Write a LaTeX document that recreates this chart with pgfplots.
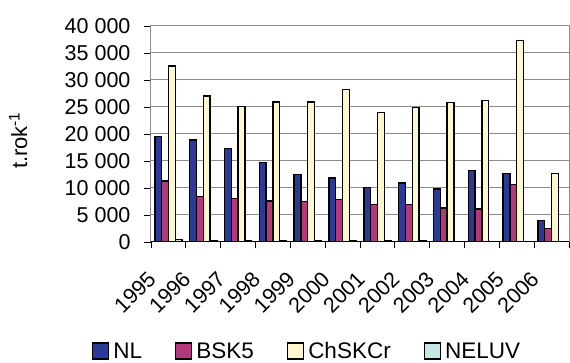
\documentclass[border=0pt]{standalone}
\usepackage{pgfplots}
\pgfplotsset{compat=1.18}
\usepackage{fontspec}
\setmainfont{Liberation Sans}
\definecolor{cNL}{HTML}{2B3A94}
\definecolor{cBSK}{HTML}{B4387A}
\definecolor{cCh}{HTML}{FDF6CE}
\definecolor{cNE}{HTML}{C6E7E3}
\definecolor{cGrid}{HTML}{8C8C8C}
\begin{document}
\begin{tikzpicture}[x=1pt,y=1pt]
\path[use as bounding box] (0,0) rectangle (570,363);
\begin{axis}[
  at={(151pt,121pt)}, anchor=south west,
  scale only axis, width=418pt, height=216pt,
  ybar=0pt, bar width=6.8pt,
  xmin=-0.5, xmax=11.5, ymin=0, ymax=40000,
  ytick={0,5000,...,40000},
  scaled y ticks=false,
  /pgf/number format/assume math mode=true,
  /pgf/number format/1000 sep={\ },
  xtick={0,...,11},
  xticklabels={1995,1996,1997,1998,1999,2000,2001,2002,2003,2004,2005,2006},
  minor xtick={-0.5,0.5,...,11.5},
  major x tick style={draw=none},
  minor tick length=6pt, major tick length=7pt,
  tick align=outside, xtick pos=bottom, ytick pos=left,
  ymajorgrids, grid style={cGrid, line width=1pt},
  axis line style={cGrid, line width=1pt},
  tick style={black, line width=0.8pt},
  ticklabel style={font=\fontsize{21.5}{26}\selectfont},
  yticklabel style={xshift=-10pt},
  xticklabel style={xshift=-22pt, yshift=-16pt, rotate=45, anchor=north east},
  ylabel={t.rok\textsuperscript{-1}},
  ylabel style={font=\fontsize{22}{26}\selectfont, at={(axis description cs:-0.318,0.47)}, anchor=center},
  legend columns=4,
  legend style={draw=none, fill=none, at={(axis description cs:0.371,-0.505)}, anchor=center,
    font=\fontsize{22.5}{27}\selectfont,
    nodes={inner sep=0pt},
    /tikz/every odd column/.append style={column sep=4pt},
    /tikz/every even column/.append style={column sep=33pt}},
  legend image code/.code={\draw[#1, draw=black, line width=1.3pt] (0pt,-8pt) rectangle (16pt,8pt);},
  every axis plot/.append style={draw=black, line width=1.4pt},
]
\addplot[fill=cNL] coordinates {(0,19500) (1,18900) (2,17300) (3,14700) (4,12500) (5,11850) (6,10100) (7,10900) (8,9800) (9,13200) (10,12650) (11,4000)};
\addplot[fill=cBSK] coordinates {(0,11300) (1,8400) (2,8100) (3,7600) (4,7550) (5,7900) (6,6900) (7,6900) (8,6300) (9,6100) (10,10700) (11,2500)};
\addplot[fill=cCh] coordinates {(0,32600) (1,27000) (2,25100) (3,25900) (4,25900) (5,28200) (6,24000) (7,24900) (8,25800) (9,26200) (10,37300) (11,12700)};
\addplot[fill=cNE] coordinates {(0,500) (1,300) (2,250) (3,200) (4,150) (5,150) (6,150) (7,150) (8,100) (9,100) (10,100) (11,50)};
\legend{NL,BSK5,ChSKCr,NELUV}
\draw[black, line width=1.2pt] (axis cs:-0.5,0) -- (axis cs:11.5,0);
\end{axis}
\end{tikzpicture}
\end{document}
